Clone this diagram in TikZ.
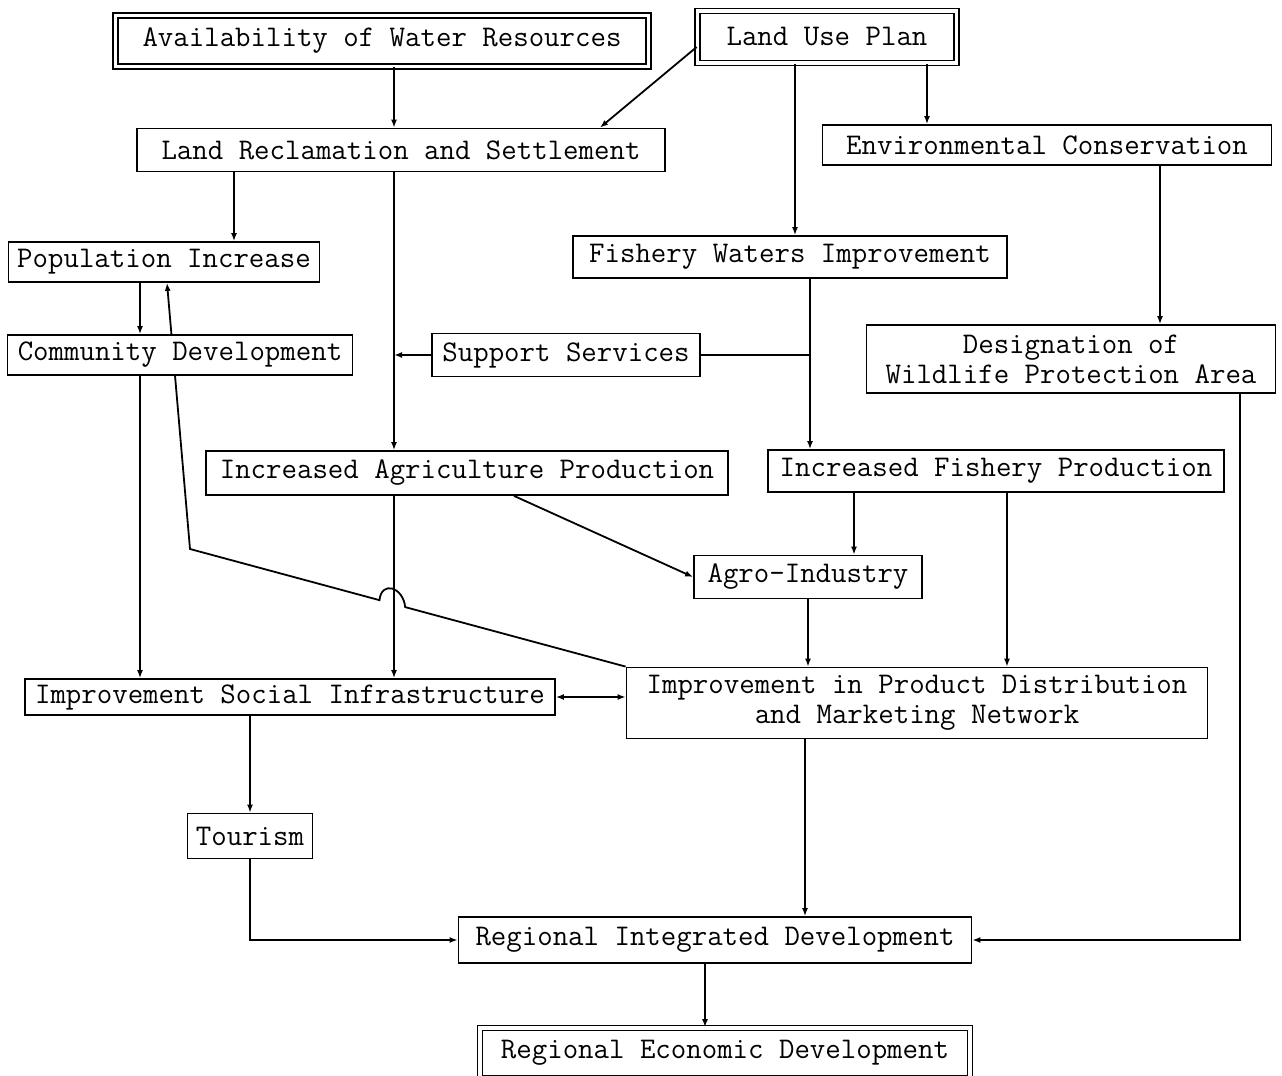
\documentclass[tikz,border=0pt]{standalone}
\usepackage{fontspec}
\usepackage{tikz}
\usetikzlibrary{calc,arrows.meta,backgrounds}

\tikzset{
  box/.style={draw, fill=white, line width=0.9pt, inner sep=0pt, align=center,
    font=\ttfamily\fontsize{15}{15}\selectfont},
  dbox/.style={box, double, double distance=1.8pt, line width=0.8pt},
  sz/.style 2 args={minimum width=#1*0.5pt, minimum height=#2*0.5pt},
  link/.style={line width=0.9pt, ->},
  joinline/.style={line width=0.9pt}
}

\begin{document}
\begin{tikzpicture}[x=0.5pt, y=-0.5pt, >={Latex[length=4pt,width=3pt]}]
\useasboundingbox (0,0) rectangle (1282,1076);

% Boxes
\node[dbox, sz={533}{51}] (water) at (382,41) {Availability of Water Resources};
\node[dbox, sz={259}{52}] (landuse) at (827,37) {Land Use Plan};
\node[box, sz={528}{43}] (reclaim) at (401,150) {Land Reclamation and Settlement};
\node[box, sz={449}{40}] (conserve) at (1047,145) {Environmental Conservation};
\node[box, sz={311}{40}] (popul) at (164,262) {Population Increase};
\node[box, sz={434}{42}] (fishwater) at (790,257) {Fishery Waters Improvement};
\node[box, sz={345}{40}] (community) at (180,355) {Community Development};
\node[box, sz={268}{43}] (support) at (566,355) {Support Services};
\node[box, sz={409}{68}] (wildlife) at (1071,359) {Designation of\\Wildlife Protection Area};
\node[box, sz={522}{44}] (agri) at (467,473) {Increased Agriculture Production};
\node[box, sz={456}{42}] (fishprod) at (996,471) {Increased Fishery Production};
\node[box, sz={228}{43}] (agro) at (808,577) {Agro-Industry};
\node[box, sz={530}{36}] (social) at (290,697) {Improvement Social Infrastructure};
\node[box, sz={581}{71}] (market) at (917,703) {Improvement in Product Distribution\\and Marketing Network};
\node[box, sz={125}{45}] (tourism) at (250,836) {Tourism};
\node[box, sz={513}{46}] (integr) at (715,940) {Regional Integrated Development};
\node[dbox, sz={490}{50}] (economy) at (725,1053) {Regional Economic Development};

% line columns
\coordinate (xa) at (394,0);
\coordinate (xb) at (234,0);
\coordinate (xc) at (140,0);
\coordinate (xd) at (795,0);
\coordinate (xe) at (927,0);
\coordinate (xf) at (810,0);
\coordinate (xg) at (1160,0);
\coordinate (xh) at (1240,0);
\coordinate (xi) at (514,0);
\coordinate (xj) at (854,0);
\coordinate (xk) at (1007,0);
\coordinate (xl) at (805,0);
\coordinate (xm) at (705,0);
\coordinate (xr) at (600,0);
\coordinate (bend) at (190,549);

% Connectors
\draw[link] (water.south -| xa) -- (reclaim.north -| xa);
\draw[link] ([yshift=-5pt]landuse.west) -- (reclaim.north -| xr);
\draw[link] (landuse.south -| xd) -- (fishwater.north -| xd);
\draw[link] (landuse.south -| xe) -- (conserve.north -| xe);
\draw[link] (reclaim.south -| xb) -- (popul.north -| xb);
\draw[link] (reclaim.south -| xa) -- (agri.north -| xa);
\draw[link] (agri.south -| xa) -- (social.north -| xa);
\draw[link] (popul.south -| xc) -- (community.north -| xc);
\draw[link] (community.south -| xc) -- (social.north -| xc);
\draw[link] (support.west) -- (support.west -| xa);
\draw[joinline] (support.east) -- (support.east -| xf);
\draw[link] (fishwater.south -| xf) -- (fishprod.north -| xf);
\draw[link] (conserve.south -| xg) -- (wildlife.north -| xg);
\draw[link] (wildlife.south -| xh) |- (integr.east);
\draw[link] (agri.south -| xi) -- (agro.west);
\draw[link] (fishprod.south -| xj) -- (agro.north -| xj);
\draw[link] (fishprod.south -| xk) -- (market.north -| xk);
\draw[link] (agro.south) -- (agro.south |- market.north);
\draw[line width=0.9pt, <->] (social.east) -- (social.east -| market.west);
\draw[link] (social.south -| tourism.north) -- (tourism.north);
\draw[link] (tourism.south) |- (integr.west);
\draw[link] (market.south -| xl) -- (integr.north -| xl);
\draw[link] (integr.south -| xm) -- (economy.north -| xm);

% feedback line, behind the boxes
\begin{scope}[on background layer]
\draw[link] (market.north west) -- ($(bend)!0.494!(market.north west)$)
  .. controls +(-2,-20) and +(2,-20) .. ($(bend)!0.435!(market.north west)$)
  -- (bend) -- ([xshift=1.5pt]popul.south);
\end{scope}
\end{tikzpicture}
\end{document}
